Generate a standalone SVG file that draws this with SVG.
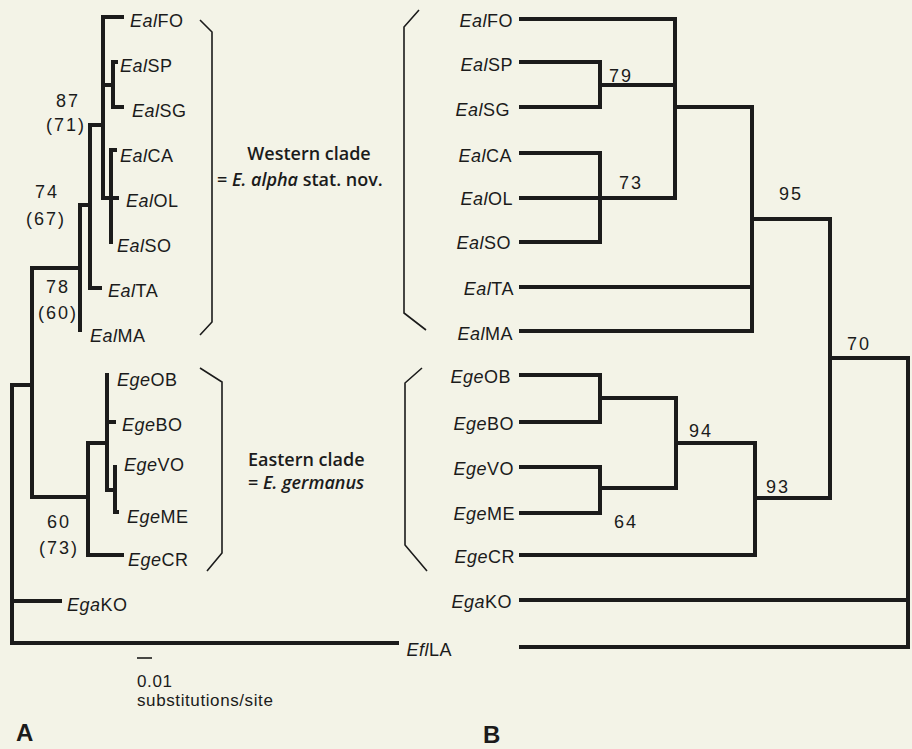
<svg xmlns="http://www.w3.org/2000/svg" width="912" height="749" viewBox="0 0 912 749">
<style>
.br{fill:none;stroke:#1b1b1b;stroke-width:4;stroke-linecap:square;stroke-linejoin:miter}
.bk{fill:none;stroke:#1b1b1b;stroke-width:1.6}
.sb{fill:none;stroke:#1b1b1b;stroke-width:1.6}
.lab{font-family:"Liberation Sans",Arial,sans-serif;font-size:18px;fill:#1b1b1b;letter-spacing:0.5px}
.lab .i{font-style:italic}
.num{font-family:"Liberation Sans",Arial,sans-serif;font-size:18px;fill:#1b1b1b;letter-spacing:2px;text-anchor:middle}
.clade{font-family:"Open Sans","Noto Sans",sans-serif;font-size:18px;font-weight:600;fill:#1b1b1b}
.pl{font-family:"Liberation Sans",Arial,sans-serif;font-size:24px;font-weight:bold;fill:#1b1b1b}
.sc{font-family:"Liberation Sans",Arial,sans-serif;font-size:17px;fill:#1b1b1b;letter-spacing:0.6px}
</style>
<rect width="912" height="749" fill="#f3f3e7"/>

<!-- Panel A connectors -->
<g id="connectors-A">
<polyline class="br" points="122,17 103,17 103,198 117,198"/>
<polyline class="br" points="116,62 113,62 113,107 122,107"/>
<line class="br" x1="103" y1="85" x2="113" y2="85"/>
<polyline class="br" points="115,150 111,150 111,242"/>
<polyline class="br" points="103,125 90,125 90,288 100,288"/>
<polyline class="br" points="90,205 80,205 80,330"/>
<polyline class="br" points="80,268 32,268 32,497 88,497"/>
<polyline class="br" points="122,555 88,555 88,443 107,443"/>
<polyline class="br" points="107,375 107,490 115,490"/>
<line class="br" x1="107" y1="422" x2="114" y2="422"/>
<polyline class="br" points="115,467 115,512 117,512"/>
<polyline class="br" points="32,385 12,385 12,643 397,643"/>
<line class="br" x1="12" y1="601" x2="60" y2="601"/>
</g>

<!-- Panel A labels -->
<g id="A-EalFO"><text class="lab" x="130" y="27"><tspan class="i">Eal</tspan>FO</text></g>
<g id="A-EalSP"><text class="lab" x="120" y="72"><tspan class="i">Eal</tspan>SP</text></g>
<g id="A-EalSG"><text class="lab" x="132" y="117"><tspan class="i">Eal</tspan>SG</text></g>
<g id="A-EalCA"><text class="lab" x="120" y="162"><tspan class="i">Eal</tspan>CA</text></g>
<g id="A-EalOL"><text class="lab" x="126" y="207"><tspan class="i">Eal</tspan>OL</text></g>
<g id="A-EalSO"><text class="lab" x="117" y="252"><tspan class="i">Eal</tspan>SO</text></g>
<g id="A-EalTA"><text class="lab" x="108" y="297"><tspan class="i">Eal</tspan>TA</text></g>
<g id="A-EalMA"><text class="lab" x="90" y="342"><tspan class="i">Eal</tspan>MA</text></g>
<g id="A-EgeOB"><text class="lab" x="117" y="386"><tspan class="i">Ege</tspan>OB</text></g>
<g id="A-EgeBO"><text class="lab" x="122" y="431"><tspan class="i">Ege</tspan>BO</text></g>
<g id="A-EgeVO"><text class="lab" x="124" y="471"><tspan class="i">Ege</tspan>VO</text></g>
<g id="A-EgeME"><text class="lab" x="127" y="523"><tspan class="i">Ege</tspan>ME</text></g>
<g id="A-EgeCR"><text class="lab" x="128" y="566"><tspan class="i">Ege</tspan>CR</text></g>
<g id="A-EgaKO"><text class="lab" x="67" y="611"><tspan class="i">Ega</tspan>KO</text></g>

<g id="A-support">
<text class="num" x="68" y="107">87</text>
<text class="num" x="66" y="131">(71)</text>
<text class="num" x="47" y="198">74</text>
<text class="num" x="46" y="225">(67)</text>
<text class="num" x="58" y="293">78</text>
<text class="num" x="58" y="319">(60)</text>
<text class="num" x="59" y="528">60</text>
<text class="num" x="59" y="554">(73)</text>
</g>

<g id="A-brackets">
<polyline class="bk" points="200,20 212,32 212,322 200,335"/>
<polyline class="bk" points="200,368 222,382 222,553 207,571"/>
</g>

<g id="clade-labels">
<text class="clade" x="309" y="160" text-anchor="middle">Western clade</text>
<text class="clade" x="217" y="186">= <tspan font-style="italic">E. alpha</tspan> stat. nov.</text>
<text class="clade" x="248" y="466">Eastern clade</text>
<text class="clade" x="248" y="489">= <tspan font-style="italic">E. germanus</tspan></text>
</g>

<g id="scale-bar">
<line class="sb" x1="137" y1="658" x2="152" y2="658"/>
<text class="sc" x="137" y="687">0.01</text>
<text class="sc" x="137" y="706">substitutions/site</text>
</g>
<text class="pl" x="16" y="741">A</text>

<!-- Panel B -->
<g id="connectors-B">
<polyline class="br" points="521,19 675,19 675,198 521,198"/>
<polyline class="br" points="521,62 600,62 600,107 521,107"/>
<line class="br" x1="600" y1="85" x2="675" y2="85"/>
<polyline class="br" points="521,153 600,153 600,242 521,242"/>
<polyline class="br" points="675,107 752,107 752,331 521,331"/>
<line class="br" x1="521" y1="287" x2="752" y2="287"/>
<polyline class="br" points="752,219 830,219 830,498 755,498"/>
<polyline class="br" points="830,358 908,358 908,647 521,647"/>
<line class="br" x1="521" y1="600" x2="908" y2="600"/>
<polyline class="br" points="521,375 600,375 600,422 521,422"/>
<line class="br" x1="600" y1="398" x2="676" y2="398"/>
<polyline class="br" points="521,467 600,467 600,513 521,513"/>
<polyline class="br" points="600,488 676,488 676,398"/>
<polyline class="br" points="676,443 755,443 755,555 521,555"/>
</g>

<g id="B-EalFO"><text class="lab" x="513" y="27" text-anchor="end"><tspan class="i">Eal</tspan>FO</text></g>
<g id="B-EalSP"><text class="lab" x="513" y="71" text-anchor="end"><tspan class="i">Eal</tspan>SP</text></g>
<g id="B-EalSG"><text class="lab" x="510" y="116" text-anchor="end"><tspan class="i">Eal</tspan>SG</text></g>
<g id="B-EalCA"><text class="lab" x="512" y="162" text-anchor="end"><tspan class="i">Eal</tspan>CA</text></g>
<g id="B-EalOL"><text class="lab" x="513" y="205" text-anchor="end"><tspan class="i">Eal</tspan>OL</text></g>
<g id="B-EalSO"><text class="lab" x="511" y="249" text-anchor="end"><tspan class="i">Eal</tspan>SO</text></g>
<g id="B-EalTA"><text class="lab" x="514" y="295" text-anchor="end"><tspan class="i">Eal</tspan>TA</text></g>
<g id="B-EalMA"><text class="lab" x="513" y="340" text-anchor="end"><tspan class="i">Eal</tspan>MA</text></g>
<g id="B-EgeOB"><text class="lab" x="511" y="383" text-anchor="end"><tspan class="i">Ege</tspan>OB</text></g>
<g id="B-EgeBO"><text class="lab" x="514" y="430" text-anchor="end"><tspan class="i">Ege</tspan>BO</text></g>
<g id="B-EgeVO"><text class="lab" x="514" y="475" text-anchor="end"><tspan class="i">Ege</tspan>VO</text></g>
<g id="B-EgeME"><text class="lab" x="515" y="520" text-anchor="end"><tspan class="i">Ege</tspan>ME</text></g>
<g id="B-EgeCR"><text class="lab" x="515" y="563" text-anchor="end"><tspan class="i">Ege</tspan>CR</text></g>
<g id="B-EgaKO"><text class="lab" x="512" y="608" text-anchor="end"><tspan class="i">Ega</tspan>KO</text></g>
<g id="B-EflLA"><text class="lab" x="452" y="656" text-anchor="end"><tspan class="i">Efl</tspan>LA</text></g>

<g id="B-support">
<text class="num" x="621" y="82">79</text>
<text class="num" x="631" y="189">73</text>
<text class="num" x="791" y="200">95</text>
<text class="num" x="859" y="350">70</text>
<text class="num" x="701" y="437">94</text>
<text class="num" x="778" y="493">93</text>
<text class="num" x="626" y="528">64</text>
</g>

<g id="B-brackets">
<polyline class="bk" points="419,10 404,27 404,313 426,330"/>
<polyline class="bk" points="422,368 405,383 405,545 427,571"/>
</g>
<text class="pl" x="483" y="743">B</text>
</svg>
